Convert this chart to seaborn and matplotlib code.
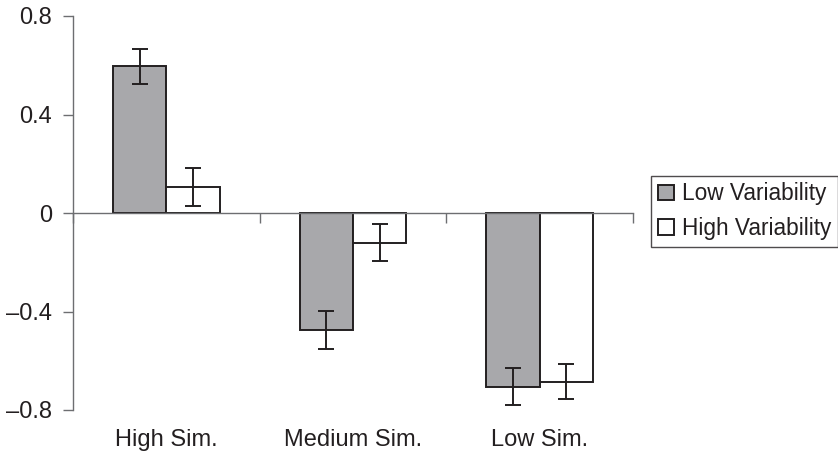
import numpy as np
import pandas as pd
import matplotlib
matplotlib.use("Agg")
import matplotlib.pyplot as plt
import seaborn as sns

# -----------------------------
# Data
# -----------------------------
categories = ["High Sim.", "Medium Sim.", "Low Sim."]
groups = ["Low Variability", "High Variability"]
low_var = [0.595, -0.475, -0.705]
high_var = [0.105, -0.12, -0.685]
low_var_err = [0.072, 0.076, 0.075]
high_var_err = [0.076, 0.075, 0.071]
y_ticks = [-0.8, -0.4, 0, 0.4, 0.8]
y_tick_labels = ["\u20130.8", "\u20130.4", "0", "0.4", "0.8"]

df = pd.DataFrame({
    "Similarity": categories * 2,
    "Variability": [groups[0]] * 3 + [groups[1]] * 3,
    "Value": low_var + high_var,
})
errs = low_var_err + high_var_err

sns.set_theme(style="white")
plt.rcParams["font.family"] = ["Liberation Sans", "DejaVu Sans"]

text_col = "#231f20"
axis_col = "#6d6e71"
fs = 17

fig = plt.figure(figsize=(8.38, 4.54), dpi=100)
ax = fig.add_axes([73 / 838, 44 / 454, 560 / 838, 394 / 454])

sns.barplot(
    data=df, x="Similarity", y="Value", hue="Variability",
    order=categories, hue_order=groups,
    palette=["#a7a8ab", "#ffffff"], width=0.57,
    edgecolor=text_col, linewidth=1.4, errorbar=None, ax=ax,
)

# error bars on each bar (patches come hue-by-hue)
bars = [p for p in ax.patches if p.get_width() > 0][:6]
xs = [p.get_x() + p.get_width() / 2 for p in bars]
ax.errorbar(xs, df["Value"], yerr=errs, fmt="none", ecolor=text_col,
            elinewidth=1.4, capsize=5.5, capthick=1.4, zorder=5)

ax.set_xlim(-0.5, 2.5)
ax.set_ylim(-0.8, 0.8)
ax.set_yticks(y_ticks)
ax.set_yticklabels(y_tick_labels)
ax.set_xlabel("")
ax.set_ylabel("")

# x axis line sits on zero, with ticks at category boundaries
for s in ["top", "right"]:
    ax.spines[s].set_visible(False)
ax.spines["bottom"].set_position(("data", 0))
for s in ["left", "bottom"]:
    ax.spines[s].set_color(axis_col)
    ax.spines[s].set_linewidth(1.0)
ax.set_xticks([-0.5, 0.5, 1.5, 2.5])
ax.set_xticklabels([])
ax.tick_params(axis="x", direction="out", length=7, width=1.0, color=axis_col,
               bottom=True, top=False)
ax.tick_params(axis="y", direction="out", length=7, width=1.0, color=axis_col,
               left=True, labelsize=fs, labelcolor=text_col, pad=8)

# category labels along the bottom of the plot
sec = ax.secondary_xaxis(0)
sec.set_xticks(range(len(categories)))
sec.set_xticklabels(categories)
sec.spines["bottom"].set_visible(False)
sec.tick_params(length=0, labelsize=fs, labelcolor=text_col, pad=14)

ax.legend(
    loc="center left", bbox_to_anchor=(651 / 838, 0.535),
    bbox_transform=fig.transFigure, frameon=True, fancybox=False,
    edgecolor=text_col, fontsize=16.3, handlelength=0.7, handleheight=0.7,
    handletextpad=0.38, borderpad=0.3, labelspacing=0.5, borderaxespad=0,
    labelcolor=text_col,
)
ax.get_legend().get_frame().set_linewidth(1.0)

fig.savefig("out.png", dpi=100)
